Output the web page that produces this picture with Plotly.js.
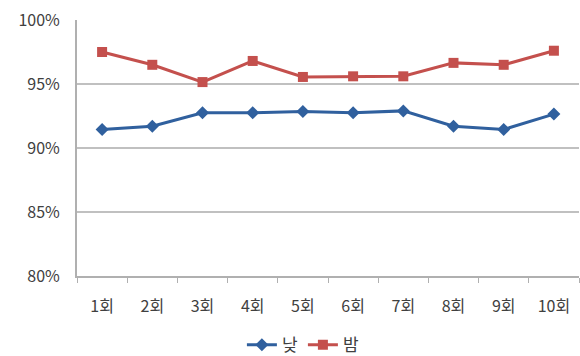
<!DOCTYPE html>
<html><head><meta charset="utf-8">
<script src="https://cdn.plot.ly/plotly-3.0.1.min.js"></script>
<style>html,body{margin:0;padding:0;background:#fff}#chart{width:580px;height:356px}</style>
</head><body><div id="chart"></div>
<script>
const categories = ["1회","2회","3회","4회","5회","6회","7회","8회","9회","10회"];
const dayValues = [91.45, 91.7, 92.75, 92.75, 92.85, 92.75, 92.9, 91.7, 91.45, 92.65];
const nightValues = [97.5, 96.5, 95.15, 96.8, 95.55, 95.6, 95.6, 96.65, 96.5, 97.6];
const yTicks = [80, 85, 90, 95, 100];
const yTickLabels = ["80%","85%","90%","95%","100%"];

const font = "Noto Sans CJK KR, Noto Sans, sans-serif";
const traces = [
  {x: categories, y: dayValues, name: "낮", type: "scatter", mode: "lines+markers",
   line: {color: "#30609e", width: 3}, marker: {symbol: "diamond", size: 10, color: "#30609e"}},
  {x: categories, y: nightValues, name: "밤", type: "scatter", mode: "lines+markers",
   line: {color: "#c4504d", width: 3}, marker: {symbol: "square", size: 10, color: "#c4504d"}}
];
const layout = {
  width: 580, height: 356,
  margin: {l: 77, r: 1, t: 20, b: 80, autoexpand: false},
  paper_bgcolor: "#fff", plot_bgcolor: "#fff",
  font: {family: font, size: 16, color: "#404040"},
  showlegend: true,
  legend: {orientation: "h", x: 0.45, xanchor: "center", y: -0.2, yanchor: "top",
           itemwidth: 30, tracegroupgap: 0,
           font: {family: font, size: 17, color: "#404040"}},
  xaxis: {type: "category", showgrid: false, showline: true, linecolor: "#b0b0b0", linewidth: 2,
          ticks: "outside", tickson: "boundaries", ticklen: 5, tickcolor: "#b0b0b0", tickwidth: 1,
          ticklabelstandoff: 15, automargin: false,
          range: [-0.5, 9.5], zeroline: false, fixedrange: true},
  yaxis: {range: [80, 100], tickvals: yTicks, ticktext: yTickLabels, automargin: false,
          showgrid: true, gridcolor: "#c0c0c0", gridwidth: 2,
          showline: true, linecolor: "#b0b0b0", linewidth: 2, zeroline: false,
          ticks: "", ticklabelstandoff: 12, fixedrange: true}
};
Plotly.newPlot("chart", traces, layout, {displayModeBar: false, staticPlot: true});
</script></body></html>
